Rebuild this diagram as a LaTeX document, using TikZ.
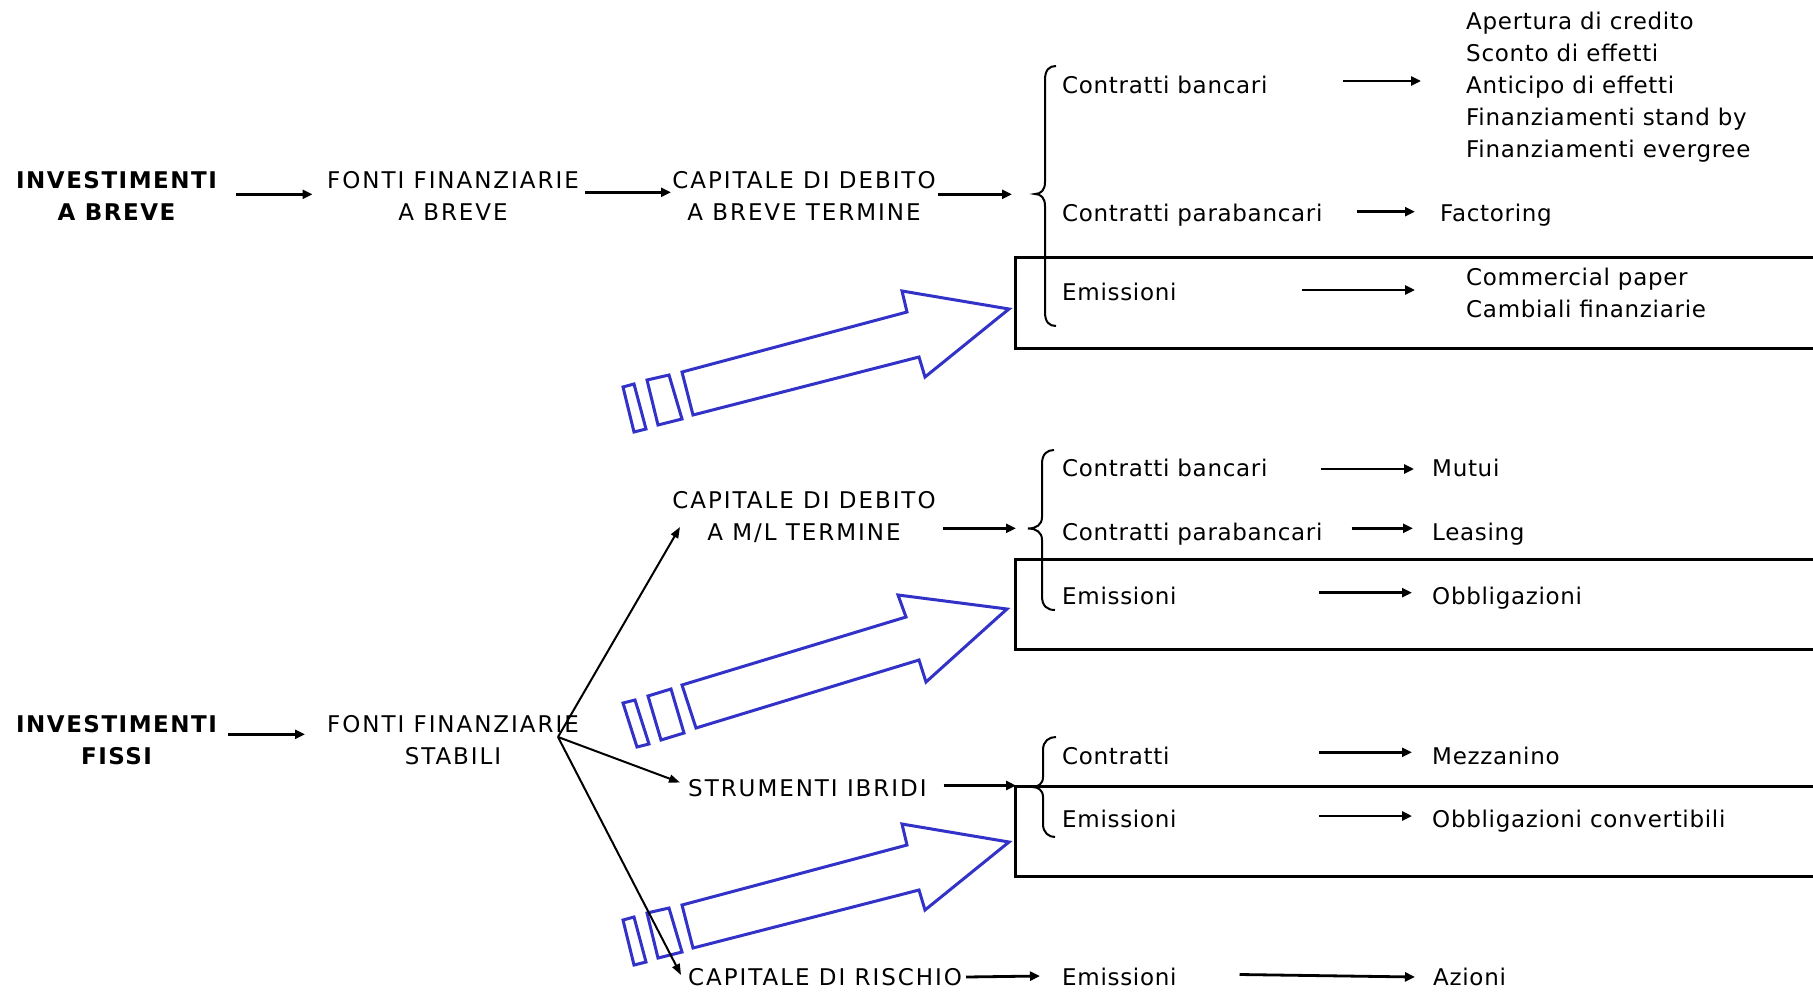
\documentclass[tikz,border=0pt]{standalone}
\usepackage{fontspec}
\setmainfont{DejaVu Sans}[LetterSpace=3]
\newfontfamily\capsfont{DejaVu Sans}[LetterSpace=8.5]
\newfontfamily\capsbold{DejaVu Sans Bold}[LetterSpace=6.5]
\usetikzlibrary{arrows.meta}
\definecolor{myblue}{RGB}{50,50,200}
\tikzset{
  txt/.style={inner sep=0pt, font=\fontsize{23bp}{32bp}\selectfont},
  captxt/.style={inner sep=0pt, font=\capsfont\fontsize{23bp}{32bp}\selectfont, align=center, anchor=north},
  capbold/.style={captxt, font=\capsbold\fontsize{23bp}{32bp}\selectfont},
  capline/.style={inner sep=0pt, font=\capsfont\fontsize{23bp}{32bp}\selectfont, anchor=base west},
  lw/.style={txt, anchor=base west},
  arr/.style={line width=2.8bp, -{Triangle[length=10bp,width=9bp]}},
  diag/.style={line width=2bp, -{Triangle[length=11bp,width=8bp]}},
  frame/.style={line width=3bp},
  bracepath/.style={line width=2bp},
  bluearrow/.style={draw=myblue, line width=3bp, line join=miter}
}
\begin{document}
\begin{tikzpicture}[x=1bp,y=-1bp]
\clip (0,0) rectangle (1813,991);
\fill[white] (0,0) rectangle (1813,991);

% ---------- boxes ----------
\draw[frame] (1015,257) rectangle (1840,348);
\draw[frame] (1015,559) rectangle (1840,649);
\draw[frame] (1015,786) rectangle (1840,876);

% ---------- blue arrows ----------
\foreach \dy in {0,533}{
\begin{scope}[yshift=-\dy bp]
\draw[bluearrow] (682,372) -- (907,312) -- (902,291) -- (1009,309) -- (925,377) -- (919,357) -- (693,415) -- cycle;
\draw[bluearrow] (647,380) -- (669,375) -- (682,419) -- (658,425) -- cycle;
\draw[bluearrow] (623,387) -- (634,384) -- (646,429) -- (634,432) -- cycle;
\end{scope}
}
\draw[bluearrow] (682,685) -- (906,617) -- (898,595) -- (1007,609) -- (926,682) -- (919,660) -- (696,728) -- cycle;
\draw[bluearrow] (648,696) -- (671,689) -- (684,733) -- (661,740) -- cycle;
\draw[bluearrow] (623,703) -- (635,700) -- (649,744) -- (637,747) -- cycle;

% ---------- braces ----------
\draw[bracepath] (1056,66) .. controls (1049,66) and (1045,70) .. (1045,80) -- (1045,182) .. controls (1045,190) and (1041,194) .. (1035,194) .. controls (1041,194) and (1045,198) .. (1045,206) -- (1045,312) .. controls (1045,322) and (1049,326) .. (1056,326);
\draw[bracepath] (1054,450) .. controls (1047,450) and (1042,454) .. (1042,464) -- (1042,517) .. controls (1042,525) and (1036,528.5) .. (1028,528.5) .. controls (1036,528.5) and (1042,532) .. (1042,540) -- (1042,596) .. controls (1042,606) and (1047,610) .. (1055,610);
\draw[bracepath] (1056,737) .. controls (1049,737) and (1043,741) .. (1043,750) -- (1043,777) .. controls (1043,784) and (1038,787) .. (1032,787) .. controls (1038,787) and (1043,790) .. (1043,797) -- (1043,824) .. controls (1043,833) and (1049,837) .. (1055,837);

% ---------- left column nodes ----------
\node[capbold] (invb) at (116.5,171.5) {INVESTIMENTI\\A BREVE};
\node[captxt] (fontib) at (453,171.5) {FONTI FINANZIARIE\\A BREVE};
\node[captxt] (capdb) at (804,171.5) {CAPITALE DI DEBITO\\A BREVE TERMINE};

\node[captxt] (capdml) at (804,491.5) {CAPITALE DI DEBITO\\A M/L TERMINE};
\node[capbold] (invf) at (116.5,715) {INVESTIMENTI\\FISSI};
\node[captxt] (fontis) at (453,715) {FONTI FINANZIARIE\\STABILI};
\node[capline] (ibridi) at (688,796) {STRUMENTI IBRIDI};
\node[capline] (rischio) at (688,985.5) {CAPITALE DI RISCHIO};

% ---------- top right ----------
\node[lw] (cb1) at (1062,93.3) {Contratti bancari};
\node[lw] (cp1) at (1062,221) {Contratti parabancari};
\node[lw] (em1) at (1062,300) {Emissioni};
\node[txt, align=left, anchor=north west] (list1) at (1466,11.8) {Apertura di credito\\Sconto di effetti\\Anticipo di effetti\\Finanziamenti stand by\\Finanziamenti evergree};
\node[lw] (fact) at (1440,221) {Factoring};
\node[txt, align=left, anchor=north west] (cpap) at (1466,268.2) {Commercial paper\\Cambiali finanziarie};

% ---------- middle right ----------
\node[lw] (cb2) at (1062,476) {Contratti bancari};
\node[lw] (cp2) at (1062,540) {Contratti parabancari};
\node[lw] (em2) at (1062,604) {Emissioni};
\node[lw] (mutui) at (1432,476) {Mutui};
\node[lw] (leas) at (1432,540) {Leasing};
\node[lw] (obb) at (1432,604) {Obbligazioni};

% ---------- lower right ----------
\node[lw] (contr3) at (1062,764) {Contratti};
\node[lw] (em3) at (1062,827.7) {Emissioni};
\node[lw] (mezz) at (1432,764) {Mezzanino};
\node[lw] (obbc) at (1432,827.7) {Obbligazioni convertibili};
\node[lw] (em4) at (1062,985.5) {Emissioni};
\node[lw] (azioni) at (1433,985.5) {Azioni};

% ---------- connector end points ----------
\coordinate (a1s) at (236,194.3);  \coordinate (a1e) at (312.5,194.3);
\coordinate (a2s) at (585,192.3);  \coordinate (a2e) at (671,192.3);
\coordinate (a3s) at (937.5,194.3); \coordinate (a3e) at (1012,194.3);
\coordinate (r1s) at (1343,81);    \coordinate (r1e) at (1421,81);
\coordinate (r2s) at (1357,211.7); \coordinate (r2e) at (1415,211.7);
\coordinate (r3s) at (1302,290);   \coordinate (r3e) at (1415,290);
\coordinate (m0s) at (943,528.3);  \coordinate (m0e) at (1016,528.3);
\coordinate (m1s) at (1321,469);   \coordinate (m1e) at (1414,469);
\coordinate (m2s) at (1351.5,528.3); \coordinate (m2e) at (1413,528.3);
\coordinate (m3s) at (1319,592.7); \coordinate (m3e) at (1412,592.7);
\coordinate (b0s) at (228,734.3);  \coordinate (b0e) at (305,734.3);
\coordinate (J) at (558,737);
\coordinate (d1e) at (680,527); \coordinate (d2e) at (680,782.5); \coordinate (d3e) at (681,975);
\coordinate (i0s) at (943.5,785.5); \coordinate (i0e) at (1016,785.5);
\coordinate (i1s) at (1319,752.3); \coordinate (i1e) at (1412,752.3);
\coordinate (i2s) at (1319,816);   \coordinate (i2e) at (1412,816);
\coordinate (k1s) at (966,977);    \coordinate (k1e) at (1040,976);
\coordinate (k2s) at (1239.5,974.5); \coordinate (k2e) at (1415,977);

% ---------- connectors ----------
\draw[arr] (a1s) -- (a1e);
\draw[arr] (a2s) -- (a2e);
\draw[arr] (a3s) -- (a3e);
\draw[arr] (r1s) -- (r1e);
\draw[arr] (r2s) -- (r2e);
\draw[arr] (r3s) -- (r3e);
\draw[arr] (m0s) -- (m0e);
\draw[arr] (m1s) -- (m1e);
\draw[arr] (m2s) -- (m2e);
\draw[arr] (m3s) -- (m3e);
\draw[arr] (b0s) -- (b0e);
\draw[diag] (J) -- (d1e);
\draw[diag] (J) -- (d2e);
\draw[diag] (J) -- (d3e);
\draw[arr] (i0s) -- (i0e);
\draw[arr] (i1s) -- (i1e);
\draw[arr] (i2s) -- (i2e);
\draw[arr] (k1s) -- (k1e);
\draw[arr] (k2s) -- (k2e);
\end{tikzpicture}
\end{document}
